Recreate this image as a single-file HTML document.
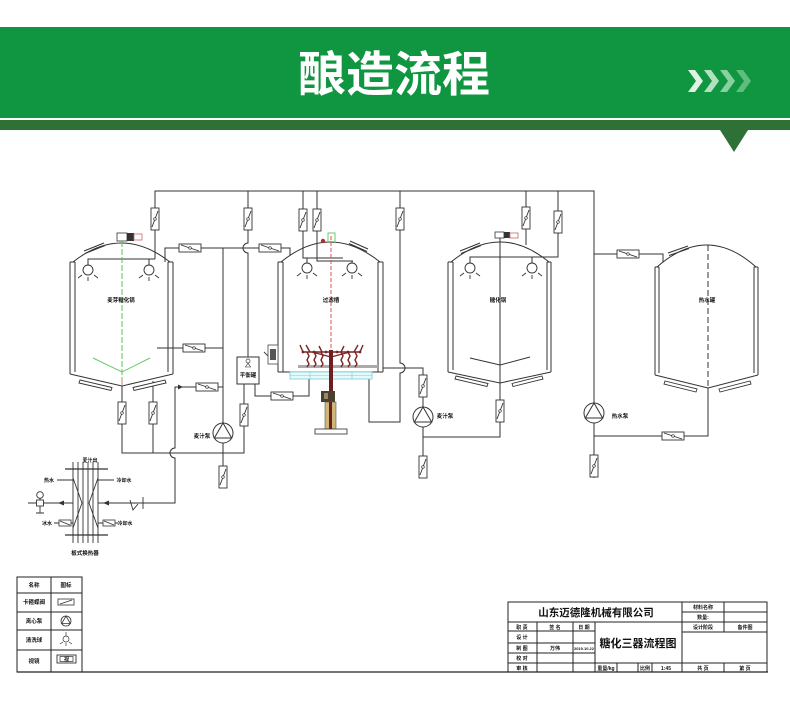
<!DOCTYPE html>
<html><head><meta charset="utf-8">
<style>
html,body{margin:0;padding:0;background:#fff;}
body{width:790px;height:705px;overflow:hidden;position:relative;}
svg{position:absolute;left:0;top:0;}
.t{font-family:"Liberation Sans","Noto Sans CJK SC",sans-serif;font-weight:700;font-size:5.5px;fill:#111;text-anchor:middle;}
.tb{font-family:"Liberation Sans","Noto Sans CJK SC",sans-serif;font-weight:700;font-size:5px;fill:#111;text-anchor:middle;}
</style></head><body>
<svg width="790" height="705" viewBox="0 0 790 705" xmlns="http://www.w3.org/2000/svg">
<defs>
  <g id="vv"><rect x="-4" y="-11" width="8" height="22" fill="#fff" stroke="#333" stroke-width="0.9"/><line x1="-3" y1="8" x2="3" y2="-8" stroke="#333" stroke-width="0.9"/><circle r="1.3" fill="#fff" stroke="#333" stroke-width="0.7"/></g>
  <g id="hv"><rect x="-11" y="-4" width="22" height="8" fill="#fff" stroke="#333" stroke-width="0.9"/><line x1="-9" y1="-3" x2="9" y2="3" stroke="#333" stroke-width="0.9"/><circle r="1.3" fill="#fff" stroke="#333" stroke-width="0.7"/></g>
  <g id="sv"><rect x="-6" y="-3" width="12" height="6" fill="#fff" stroke="#333" stroke-width="0.8"/><line x1="-5" y1="-2" x2="5" y2="2" stroke="#333" stroke-width="0.8"/></g>
  <g id="pump"><circle r="10" fill="#fff" stroke="#333" stroke-width="1"/><polygon points="0,-10 8.66,5 -8.66,5" fill="none" stroke="#333" stroke-width="1"/></g>
  <g id="spray" fill="none" stroke="#333" stroke-width="0.9"><circle r="5" fill="#fff"/><line x1="-10" y1="8" x2="-6" y2="5"/><line x1="0" y1="7" x2="0" y2="11"/><line x1="6" y1="5" x2="10" y2="8"/></g>
</defs>

<!-- Header -->
<rect x="0" y="27" width="790" height="91" fill="#109640"/>
<rect x="0" y="120" width="790" height="10" fill="#2e7036"/>
<polygon points="720,130 748,130 734,152" fill="#2e7036"/>
<text x="394" y="91" font-size="48" font-weight="700" fill="#fff" text-anchor="middle" font-family="'Liberation Sans','Noto Sans CJK SC',sans-serif">酿造流程</text>
<polygon points="688,70 695,70 703,81 695,92 688,92 696,81" fill="#dff2e3"/>
<polygon points="704,70 711,70 719,81 711,92 704,92 712,81" fill="#b5e0c0"/>
<polygon points="720,70 727,70 735,81 727,92 720,92 728,81" fill="#8ad0a0"/>
<polygon points="736,70 743,70 751,81 743,92 736,92 744,81" fill="#5fbd7d"/>

<!-- Pipes -->
<g fill="none" stroke="#333" stroke-width="1">
  <path d="M155,259 V191 H594 V403"/>
  <path d="M88,265 V259 H155"/>
  <path d="M149,265 V259"/>
  <path d="M248,191 V243 A5,5 0 0 0 248,253 V357"/>
  <path d="M303,191 V258 H343"/>
  <path d="M307,258 V263"/>
  <path d="M317,191 V261 H353"/>
  <path d="M352,261 V263"/>
  <path d="M400,191 V363 A5,5 0 0 1 400,373 V422 H369 V379"/>
  <path d="M526,191 V245"/>
  <path d="M558,191 V257 H470 V263"/>
  <path d="M532,257 V263"/>
  <path d="M165,262 V248 H290 V255"/>
  <path d="M223,248 V423"/>
  <path d="M157,348 H223"/>
  <path d="M223,387 H175 V448 A5,5 0 0 0 175,458 V503 H98"/>
  <path d="M122,386 V453 H244 V384"/>
  <path d="M153,381 V453"/>
  <path d="M223,443 V488"/>
  <path d="M255,384 V396 H309 V379"/>
  <path d="M383,368 H423 V407"/>
  <path d="M423,427 V478"/>
  <path d="M423,437 H500 V383"/>
  <path d="M594,423 V478"/>
  <path d="M594,436 H708 V388"/>
  <path d="M594,254 H663 V262"/>
</g>
<polygon points="183,387 178,384.5 178,389.5" fill="#333"/>

<!-- Tank 1: mash -->
<g fill="none" stroke="#333" stroke-width="1">
  <path d="M70,262 V374 M75,262 V372 M70,262 H75 M168,262 V372 M173,262 V374 M168,262 H173"/>
  <path d="M73,262 Q121,224 170,262"/>
  <path d="M70,374 L122,386 L173,374"/>
  <path d="M84,251 L104,243 M85,253.5 L105,245.5"/>
</g>
<polygon points="80,380 112,387.5 111,390.5 79,383" fill="#fff" stroke="#333" stroke-width="0.9"/>
<polygon points="133,387.5 165,380 166,383 134,390.5" fill="#fff" stroke="#333" stroke-width="0.9"/>
<rect x="117" y="233" width="10" height="8" fill="#fff" stroke="#333" stroke-width="0.8"/>
<rect x="127" y="233" width="7" height="8" fill="#333"/>
<rect x="134" y="234" width="8" height="6" fill="#fff" stroke="#c66" stroke-width="0.8"/>
<line x1="122" y1="241" x2="122" y2="380" stroke="#55c455" stroke-width="1" stroke-dasharray="6,2"/>
<line x1="122" y1="380" x2="122" y2="386" stroke="#d77" stroke-width="1"/>
<polyline points="93,358 122,372 150,358" fill="none" stroke="#66cc66" stroke-width="1"/>
<use href="#spray" x="88" y="270"/>
<use href="#spray" x="149" y="270"/>
<text class="t" x="121" y="302">麦芽糖化锅</text>

<!-- Tank 2: lauter -->
<g fill="none" stroke="#333" stroke-width="1">
  <path d="M278,262 V372 M283,262 V372 M278,262 H283 M378,262 V372 M383,262 V372 M378,262 H383 M278,372 H383"/>
  <path d="M281,262 Q330,222 380,262"/>
  <path d="M350,241 L368,249 M349,243.5 L367,251.5"/>
</g>
<use href="#spray" x="307" y="268"/>
<use href="#spray" x="352" y="268"/>
<path d="M328,243 V233 H335 V243" fill="none" stroke="#66cc66" stroke-width="1"/>
<line x1="331" y1="236" x2="331" y2="350" stroke="#d55" stroke-width="1" stroke-dasharray="4,2"/>
<circle cx="323" cy="241" r="2.2" fill="#a33"/>
<rect x="268" y="345" width="10" height="19" fill="#fff" stroke="#444" stroke-width="0.8"/>
<rect x="270" y="349" width="6" height="11" fill="#555"/>
<line x1="264" y1="352" x2="268" y2="356" stroke="#444"/>
<text class="t" x="331" y="302">过滤槽</text>
<rect x="298" y="365" width="80" height="3" fill="#aaa"/>
<rect x="290" y="372" width="82" height="7" fill="#e6fafa" stroke="#7cd" stroke-width="0.8"/>
<path d="M290,375.5 H372 M310,372 V379 M331,372 V379 M352,372 V379" stroke="#7cd" stroke-width="0.6" fill="none"/>
<g stroke="#7b2424" fill="none" stroke-width="1.4">
  <path d="M303,352 H360"/>
  <path d="M303,352 L300,345 M360,352 L363,345 M310,352 L306,345 M354,352 L358,345 M322,352 L319,346 M341,352 L344,346"/>
  <path d="M331,357 L312,352 M331,357 L350,352"/>
  <polyline points="307,352 309,356 307,360 309,364 307,367"/>
  <polyline points="314,352 316,356 314,360 316,364 314,367"/>
  <polyline points="321,352 323,356 321,360 323,364 321,367"/>
  <polyline points="341,352 343,356 341,360 343,364 341,367"/>
  <polyline points="348,352 350,356 348,360 350,364 348,367"/>
  <polyline points="355,352 357,356 355,360 357,364 355,367"/>
</g>
<g fill="#7b2424">
  <circle cx="303" cy="352" r="1.4"/><circle cx="314" cy="352" r="1.4"/><circle cx="326" cy="352" r="1.4"/><circle cx="337" cy="352" r="1.4"/><circle cx="348" cy="352" r="1.4"/><circle cx="360" cy="352" r="1.4"/>
</g>
<rect x="329" y="350" width="4" height="42" fill="#6e1e1e"/>
<rect x="321" y="391" width="14" height="11" fill="#4a4030"/>
<rect x="324" y="393" width="4" height="6" fill="#9a8a60"/>
<rect x="325" y="402" width="11" height="27" fill="#cdb87a" stroke="#555" stroke-width="0.6"/>
<rect x="329" y="402" width="3" height="27" fill="#6e1e1e"/>
<rect x="315" y="429" width="32" height="5" fill="#fff" stroke="#444" stroke-width="0.9"/>

<!-- Balance tank -->
<rect x="237" y="357" width="22" height="27" fill="#fff" stroke="#333" stroke-width="1"/>
<circle cx="248" cy="361" r="2" fill="none" stroke="#333" stroke-width="0.7"/>
<polygon points="248,363 245.5,367 250.5,367" fill="none" stroke="#333" stroke-width="0.6"/>
<text class="t" x="248" y="377">平衡罐</text>

<!-- Tank 3: kettle -->
<g fill="none" stroke="#333" stroke-width="1">
  <path d="M448,262 V372 M453,262 V370 M448,262 H453 M547,262 V370 M551,262 V372 M547,262 H551"/>
  <path d="M451,262 Q500,222 549,262"/>
  <path d="M448,372 L500,383 L551,372"/>
  <path d="M460,251 L480,243 M461,253.5 L481,245.5"/>
  <path d="M500,238 V383"/>
  <polyline points="470,358 500,365 530,357"/>
</g>
<polygon points="456,376 488,383.5 487,386.5 455,379" fill="#fff" stroke="#333" stroke-width="0.9"/>
<polygon points="512,383.5 542,376 543,379 513,386.5" fill="#fff" stroke="#333" stroke-width="0.9"/>
<rect x="495" y="232" width="9" height="6" fill="#fff" stroke="#333" stroke-width="0.8"/>
<rect x="504" y="232" width="6" height="6" fill="#333"/>
<rect x="510" y="233" width="8" height="5" fill="#fff" stroke="#c66" stroke-width="0.8"/>
<use href="#spray" x="470" y="268"/>
<use href="#spray" x="532" y="268"/>
<text class="t" x="498" y="302">糖化锅</text>

<!-- Tank 4: hot water -->
<g fill="none" stroke="#333" stroke-width="1">
  <path d="M655,267 V375 M659,267 V373 M655,267 H659 M754,267 V373 M758,267 V375 M754,267 H758"/>
  <path d="M657,267 Q707,223 756,267"/>
  <path d="M655,375 L708,388 L758,375"/>
  <path d="M668,253 L688,246 M669,255.5 L689,248.5"/>
</g>
<line x1="708" y1="245" x2="708" y2="388" stroke="#333" stroke-width="1" stroke-dasharray="6,3"/>
<polygon points="665,381 697,389 696,392 664,384" fill="#fff" stroke="#333" stroke-width="0.9"/>
<polygon points="719,389 750,381 751,384 720,392" fill="#fff" stroke="#333" stroke-width="0.9"/>
<text class="t" x="707" y="302">热水罐</text>

<!-- Valves -->
<use href="#vv" x="155" y="219"/>
<use href="#vv" x="248" y="219"/>
<use href="#vv" x="303" y="220"/>
<use href="#vv" x="317" y="220"/>
<use href="#vv" x="400" y="219"/>
<use href="#vv" x="526" y="218"/>
<use href="#vv" x="558" y="222"/>
<use href="#vv" x="122" y="413"/>
<use href="#vv" x="153" y="413"/>
<use href="#vv" x="244" y="415"/>
<use href="#vv" x="223" y="477"/>
<use href="#vv" x="423" y="386"/>
<use href="#vv" x="500" y="411"/>
<use href="#vv" x="423" y="467"/>
<use href="#vv" x="594" y="466"/>
<use href="#hv" x="190" y="248"/>
<use href="#hv" x="270" y="248"/>
<use href="#hv" x="194" y="348"/>
<use href="#hv" x="207" y="387"/>
<use href="#hv" x="282" y="396"/>
<use href="#hv" x="628" y="254"/>
<use href="#hv" x="673" y="436"/>

<!-- Pumps -->
<use href="#pump" x="223" y="433"/>
<use href="#pump" x="423" y="417"/>
<use href="#pump" x="594" y="413"/>
<text class="t" x="202" y="438">麦汁泵</text>
<text class="t" x="445" y="418">麦汁泵</text>
<text class="t" x="620" y="418">热水泵</text>

<!-- Heat exchanger -->
<g fill="none" stroke="#333" stroke-width="0.9">
  <path d="M73,462 V543 M78,462 V543 M83,462 V543 M88,462 V543 M93,462 V543 M98,462 V543"/>
  <path d="M65,469 H108 M65,535 H108" stroke-width="1.3"/>
  <path d="M73,478 L82,503 L73,528 M98,478 L89,503 L98,528"/>
  <path d="M57,480 H73 M98,480 H114 M54,523 H73 M98,523 H118"/>
  <path d="M28,503 H73"/>
  <path d="M40,498.3 V500 M40,506 V513 M36,513 H44"/>
  <path d="M130,500 L133,510 L138,504 M143,497 V509"/>
</g>
<circle cx="40" cy="495" r="3.3" fill="#fff" stroke="#333" stroke-width="0.9"/>
<rect x="36.5" y="500" width="7" height="6" fill="#fff" stroke="#333" stroke-width="0.9"/>
<polygon points="58,503 64,500.5 64,505.5" fill="#333"/>
<polygon points="103,503 109,500.5 109,505.5" fill="#333"/>
<use href="#sv" x="65" y="523"/>
<use href="#sv" x="109" y="523"/>
<text class="tb" x="90" y="462">麦汁出</text>
<text class="tb" x="49" y="482">热水</text>
<text class="tb" x="124" y="482">冷却水</text>
<text class="tb" x="47" y="525">冰水</text>
<text class="tb" x="125" y="525">冷却水</text>
<text class="t" x="85" y="555">板式换热器</text>

<!-- Bottom border line -->
<line x1="17" y1="672" x2="768" y2="672" stroke="#222" stroke-width="1.3"/>

<!-- Legend -->
<g fill="none" stroke="#222" stroke-width="1">
  <rect x="17" y="577" width="65" height="95"/>
  <path d="M51,577 V672 M17,593 H82 M17,612 H82 M17,630 H82 M17,650 H82"/>
</g>
<text class="t" x="34" y="587">名称</text>
<text class="t" x="66" y="587">图标</text>
<text class="t" x="34" y="604">卡箍蝶阀</text>
<text class="t" x="34" y="623">离心泵</text>
<text class="t" x="34" y="642">清洗球</text>
<text class="t" x="34" y="663">视镜</text>
<rect x="58" y="599" width="16" height="6" fill="#fff" stroke="#333" stroke-width="0.8"/>
<line x1="60" y1="604" x2="72" y2="600" stroke="#333" stroke-width="0.8"/>
<circle cx="66" cy="621" r="5" fill="#fff" stroke="#333" stroke-width="0.8"/>
<polygon points="66,616 70.3,623.5 61.7,623.5" fill="none" stroke="#333" stroke-width="0.8"/>
<g fill="none" stroke="#333" stroke-width="0.7">
  <path d="M66,632 V636"/>
  <circle cx="66" cy="639" r="3" fill="#fff"/>
  <path d="M60,644 L63,642 M66,643 V646 M69,642 L72,644"/>
</g>
<rect x="57" y="655" width="19" height="8" fill="#fff" stroke="#333" stroke-width="0.9"/>
<rect x="60" y="656.5" width="13" height="5" fill="#fff" stroke="#333" stroke-width="0.7"/>
<text class="tb" x="66.5" y="661">视</text>

<!-- Title block -->
<g fill="none" stroke="#222" stroke-width="1">
  <rect x="508" y="602" width="259" height="70"/>
  <path d="M508,622 H767 M682,612 H767 M682,632 H767 M508,663 H767"/>
  <path d="M508,631 H595 M508,643 H595 M508,653 H595"/>
  <path d="M682,602 V672 M724,602 V632 M724,663 V672"/>
  <path d="M537,622 V672 M573,622 V672 M595,622 V672"/>
  <path d="M617,663 V672 M638,663 V672 M652,663 V672"/>
</g>
<text x="596" y="616" font-size="10.5" font-weight="700" fill="#111" text-anchor="middle" font-family="'Liberation Sans','Noto Sans CJK SC',sans-serif">山东迈德隆机械有限公司</text>
<text x="638" y="647" font-size="11" font-weight="700" fill="#111" text-anchor="middle" font-family="'Liberation Sans','Noto Sans CJK SC',sans-serif">糖化三器流程图</text>
<text class="tb" x="703" y="609">材料名称</text>
<text class="tb" x="703" y="619">数量:</text>
<text class="tb" x="703" y="629">设计阶段</text>
<text class="tb" x="745" y="629">备件图</text>
<text class="tb" x="522" y="629">职 责</text>
<text class="tb" x="555" y="629">签 名</text>
<text class="tb" x="584" y="629">日 期</text>
<text class="tb" x="522" y="639">设 计</text>
<text class="tb" x="522" y="650">制 图</text>
<text class="tb" x="555" y="650">万伟</text>
<text class="tb" x="584" y="650" style="font-size:4px">2019.10.22</text>
<text class="tb" x="522" y="660">校 对</text>
<text class="tb" x="522" y="670">审 核</text>
<text class="tb" x="606" y="670">重量/kg</text>
<text class="tb" x="645" y="670">比例</text>
<text class="tb" x="666" y="670">1:45</text>
<text class="tb" x="703" y="670">共 页</text>
<text class="tb" x="745" y="670">第 页</text>
</svg>
</body></html>
